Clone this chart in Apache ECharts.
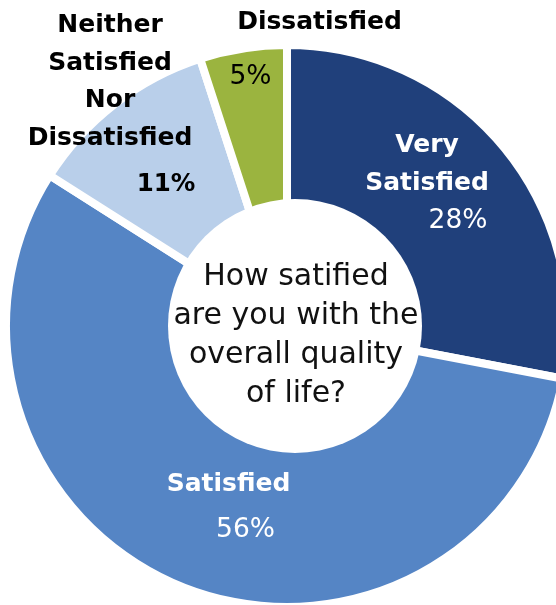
<!DOCTYPE html>
<html>
<head>
<meta charset="utf-8">
<script src="https://cdn.jsdelivr.net/npm/echarts@6/dist/echarts.min.js"></script>
<style>
  html, body { margin: 0; padding: 0; background: #ffffff; }
  #chart { width: 556px; height: 605px; }
</style>
</head>
<body>
<div id="chart"></div>
<script>
// Survey answers, clockwise from 12 o'clock
const categories = ['Very Satisfied', 'Satisfied', 'Neither Satisfied Nor Dissatisfied', 'Dissatisfied'];
const shares = [28, 56, 11, 5];
const sliceColors = ['#20407B', '#5585C5', '#B9CFEA', '#9BB43F'];
const question = 'How satified\nare you with the\noverall quality\nof life?';

// Label placement and styling per slice (name block centre, percent shift, spacing)
const labelStyle = [
  { x: 427, y: 126.75, color: '#ffffff', shift: 31,  pctLine: 38.5, pctWeight: 'normal' },
  { x: 228.5, y: 465.25, color: '#ffffff', shift: 17, pctLine: 54.5, pctWeight: 'normal' },
  { x: 110, y: 6.75, color: '#000000', shift: 56,   pctLine: 56.5, pctWeight: 'bold' },
  { x: 319.5, y: 3.75, color: '#000000', shift: -69, pctLine: 72.5, pctWeight: 'normal' }
];

const FONT = 'DejaVu Sans';

const pieData = categories.map((name, i) => {
  const s = labelStyle[i];
  const pad = s.shift >= 0 ? [0, 0, 0, 2 * s.shift] : [0, -2 * s.shift, 0, 0];
  return {
    name: name,
    value: shares[i],
    itemStyle: { color: sliceColors[i] },
    label: {
      color: s.color,
      rich: {
        n: { fontFamily: FONT, fontWeight: 'bold', fontSize: 25, lineHeight: 37.5, align: 'center', color: s.color },
        p: { fontFamily: FONT, fontWeight: s.pctWeight, fontSize: s.pctWeight === 'bold' ? 24.5 : 26.5,
             lineHeight: s.pctLine, align: 'center', padding: pad, color: s.color }
      }
    }
  };
});

const chart = echarts.init(document.getElementById('chart'), null, { renderer: 'canvas' });

chart.setOption({
  backgroundColor: '#ffffff',
  animation: false,
  series: [{
    type: 'pie',
    center: [287, 326],
    radius: [0, 281],
    startAngle: 90,
    clockwise: true,
    avoidLabelOverlap: false,
    itemStyle: { borderColor: '#ffffff', borderWidth: 8 },
    label: {
      show: true,
      position: 'inside',
      formatter: function (p) {
        const lines = p.name.split(' ').map(w => '{n|' + w + '}');
        lines.push('{p|' + p.value + '%}');
        return lines.join('\n');
      }
    },
    labelLine: { show: false },
    labelLayout: function (params) {
      const s = labelStyle[params.dataIndex];
      return { x: s.x, y: s.y, align: 'center', verticalAlign: 'top' };
    },
    emphasis: { disabled: true },
    data: pieData
  }],
  graphic: [
    {
      type: 'circle',
      z: 100,
      shape: { cx: 295, cy: 326, r: 127 },
      style: { fill: '#ffffff' }
    },
    {
      type: 'text',
      z: 101,
      style: {
        text: question,
        x: 296,
        y: 336,
        align: 'center',
        verticalAlign: 'middle',
        fontFamily: FONT,
        fontSize: 30,
        lineHeight: 39,
        fill: '#111111'
      }
    }
  ]
});
</script>
</body>
</html>
